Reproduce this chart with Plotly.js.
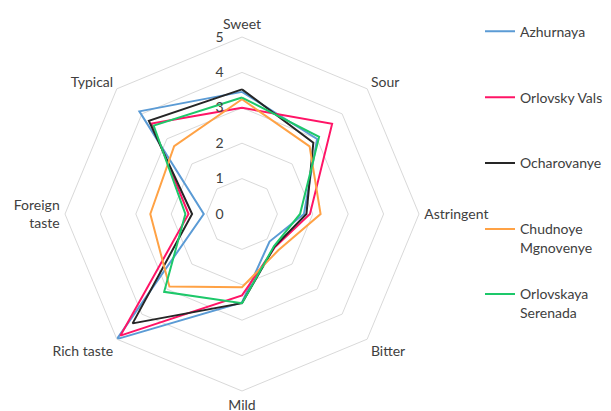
<!DOCTYPE html>
<html>
<head>
<meta charset="utf-8">
<script src="https://cdn.plot.ly/plotly-3.0.1.min.js"></script>
<style>html,body{margin:0;padding:0;background:#fff;}#chart{width:611px;height:411px;}</style>
</head>
<body>
<div id="chart"></div>
<script>
var categories = ['Sweet', 'Sour', 'Astringent', 'Bitter', 'Mild', 'Rich taste', 'Foreign<br>taste', 'Typical'];
var seriesNames = ['Azhurnaya', 'Orlovsky Vals', 'Ocharovanye', 'Chudnoye<br>Mgnovenye', 'Orlovskaya<br>Serenada'];
var azhurnaya   = [3.45, 3.00, 1.75, 1.10, 2.50, 5.00, 1.08, 4.10];
var orlovskyVals = [3.00, 3.60, 1.92, 1.32, 2.30, 4.86, 1.51, 3.61];
var ocharovanye = [3.52, 2.85, 1.82, 1.30, 2.52, 4.37, 1.41, 3.72];
var chudnoye    = [3.24, 2.70, 2.22, 1.45, 2.07, 2.90, 2.59, 2.71];
var serenada    = [3.29, 3.08, 1.64, 1.28, 2.52, 3.11, 1.60, 3.53];
var radialTicks = [0, 1, 2, 3, 4, 5];

var colors = ['#5B9BD5', '#FF1466', '#262626', '#FFA245', '#1DC86A'];
var allSeries = [azhurnaya, orlovskyVals, ocharovanye, chudnoye, serenada];
var legendIds = ['legend', 'legend2', 'legend3', 'legend4', 'legend5'];
var legendCenters = [30.7, 96.7, 162.3, 228.3, 293.3];

var H = 411, W = 611;
var traces = allSeries.map(function (vals, i) {
  return {
    type: 'scatterpolar',
    mode: 'lines',
    r: vals.concat([vals[0]]),
    theta: categories.concat([categories[0]]),
    name: seriesNames[i],
    line: {color: colors[i], width: 2},
    legend: legendIds[i],
    showlegend: true,
    hoverinfo: 'skip'
  };
});

var cx = 242, cy = 214, R = 177;
var layout = {
  width: W, height: H,
  showlegend: true,
  margin: {l: 0, r: 0, t: 0, b: 0},
  paper_bgcolor: '#fff',
  font: {family: 'Lato, "Open Sans", sans-serif', size: 14, color: '#404040'},
  polar: {
    domain: {x: [(cx - R) / W, (cx + R) / W], y: [(H - cy - R) / H, (H - cy + R) / H]},
    gridshape: 'linear',
    bgcolor: 'rgba(0,0,0,0)',
    angularaxis: {
      type: 'category',
      categoryarray: categories,
      rotation: 90,
      direction: 'clockwise',
      showgrid: false,
      showline: true,
      linecolor: '#d9d9d9',
      linewidth: 1,
      ticks: 'outside',
      ticklen: 2,
      tickcolor: 'rgba(0,0,0,0)',
      tickfont: {size: 14, color: '#404040'}
    },
    radialaxis: {
      range: [0, 5],
      tickvals: radialTicks,
      angle: 90,
      tickangle: 90,
      side: 'counterclockwise',
      showline: false,
      gridcolor: '#d9d9d9',
      gridwidth: 1,
      ticks: 'outside',
      ticklen: 13,
      tickcolor: 'rgba(0,0,0,0)',
      tickfont: {size: 14, color: '#404040'}
    }
  }
};
legendIds.forEach(function (id, i) {
  layout[id] = {
    x: 480 / W, xanchor: 'left',
    y: 1 - (legendCenters[i] - 15) / H, yanchor: 'top',
    bgcolor: 'rgba(0,0,0,0)',
    borderwidth: 0,
    valign: 'top',
    font: {size: 14, color: '#404040'}
  };
});

Plotly.newPlot('chart', traces, layout, {displayModeBar: false, staticPlot: true});
</script>
</body>
</html>
